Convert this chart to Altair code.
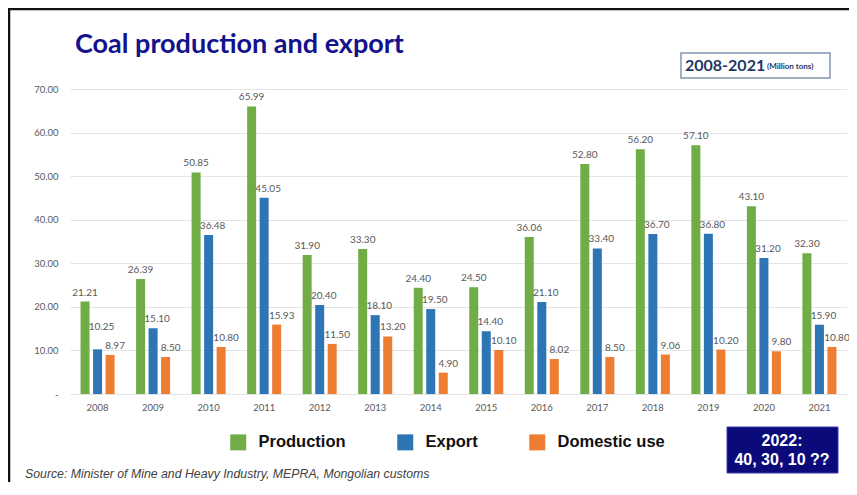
import altair as alt
import pandas as pd

years = [str(y) for y in range(2008, 2022)]
production = [21.21, 26.39, 50.85, 65.99, 31.90, 33.30, 24.40, 24.50, 36.06, 52.80, 56.20, 57.10, 43.10, 32.30]
export = [10.25, 15.10, 36.48, 45.05, 20.40, 18.10, 19.50, 14.40, 21.10, 33.40, 36.70, 36.80, 31.20, 15.90]
domestic = [8.97, 8.50, 10.80, 15.93, 11.50, 13.20, 4.90, 10.10, 8.02, 8.50, 9.06, 10.20, 9.80, 10.80]
series_names = ["Production", "Export", "Domestic use"]
series_colors = ["#70ad47", "#2e75b6", "#ed7d31"]
y_ticks = [0, 10, 20, 30, 40, 50, 60, 70]

title_text = "Coal production and export"
period_text = "2008-2021"
unit_text = "(Million tons)"
note_lines = ["2022:", "40, 30, 10 ??"]
source_text = "Source:  Minister of Mine and Heavy Industry, MEPRA, Mongolian customs"

rows = []
for name, vals in zip(series_names, [production, export, domestic]):
    for i, (yr, v) in enumerate(zip(years, vals)):
        lift = 3.0 if (name == "Export" and v - domestic[i] < 3) else 0.0
        rows.append({"year": yr, "series": name, "value": v, "label_y": v + lift})
df = pd.DataFrame(rows)

W, H = 777, 305
one = pd.DataFrame({"k": [0]})

x = alt.X("year:N", title=None, sort=years,
          scale=alt.Scale(paddingInner=0.387, paddingOuter=0.19),
          axis=alt.Axis(labelAngle=0, labelFont="Lato", labelFontSize=9.5, labelColor="#595959",
                        labelPadding=8, domain=False, ticks=False, grid=False))
xo = alt.XOffset("series:N", sort=series_names,
                 scale=alt.Scale(domain=series_names, paddingInner=0.28, paddingOuter=0))
yscale = alt.Scale(domain=[0, 70], nice=False)
yaxis = alt.Axis(values=y_ticks,
                 labelExpr="datum.value == 0 ? '-' : format(datum.value, '.2f')",
                 labelFont="Lato", labelFontSize=9.5, labelColor="#595959", labelPadding=12,
                 domain=False, ticks=False, grid=True, gridColor="#e4e4e4", gridWidth=1)
y = alt.Y("value:Q", title=None, scale=yscale, axis=yaxis)
ylab = alt.Y("label_y:Q", title=None, scale=yscale, axis=yaxis)
color = alt.Color("series:N", sort=series_names,
                  scale=alt.Scale(domain=series_names, range=series_colors),
                  legend=alt.Legend(orient="none", legendX=160, legendY=345, direction="horizontal",
                                    title=None, symbolType="square", symbolSize=256,
                                    symbolStrokeWidth=0, labelFont="Liberation Sans", labelFontSize=16.5,
                                    labelFontWeight="bold", labelColor="#111111", columnPadding=51,
                                    labelOffset=12, padding=0))

bars = alt.Chart(df).mark_bar().encode(x=x, xOffset=xo, y=y, color=color)

def labels(name, dx):
    return alt.Chart(df).transform_filter(alt.datum.series == name).mark_text(
        font="Lato", fontSize=10, color="#595959", baseline="bottom", dy=-4, dx=dx
    ).encode(x=x, xOffset=xo, y=ylab, text=alt.Text("value:Q", format=".2f"))

border = alt.Chart(one).mark_rect(fillOpacity=0, stroke="#111111", strokeWidth=2.5).encode(
    x=alt.value(-61), x2=alt.value(W + 20), y=alt.value(-80), y2=alt.value(420))

title = alt.Chart(one).transform_calculate(t=f"'{title_text}'").mark_text(
    font="Lato", fontSize=27, fontWeight="bold", color="#12128c", align="left", baseline="middle"
).encode(x=alt.value(5), y=alt.value(-44), text="t:N")

period_box = alt.Chart(one).mark_rect(fill="white", stroke="#8497b0", strokeWidth=1.5).encode(
    x=alt.value(611), x2=alt.value(760), y=alt.value(-36), y2=alt.value(-11))
period = alt.Chart(one).transform_calculate(t=f"'{period_text}'").mark_text(
    font="Lato", fontSize=16, fontWeight="bold", color="#1f3864", align="left", baseline="middle"
).encode(x=alt.value(615), y=alt.value(-23), text="t:N")
unit = alt.Chart(one).transform_calculate(t=f"'{unit_text}'").mark_text(
    font="Lato", fontSize=8, fontWeight="bold", color="#1f3864", align="left", baseline="middle"
).encode(x=alt.value(697), y=alt.value(-22), text="t:N")

note_box = alt.Chart(one).mark_rect(fill="#0a0a7a", stroke="#3a3ab0", strokeWidth=1).encode(
    x=alt.value(657), x2=alt.value(768), y=alt.value(338), y2=alt.value(384))
note1 = alt.Chart(one).transform_calculate(t=f"'{note_lines[0]}'").mark_text(
    font="Liberation Sans", fontSize=16, fontWeight="bold", color="white", align="center", baseline="middle"
).encode(x=alt.value(712), y=alt.value(352), text="t:N")
note2 = alt.Chart(one).transform_calculate(t=f"'{note_lines[1]}'").mark_text(
    font="Liberation Sans", fontSize=16, fontWeight="bold", color="white", align="center", baseline="middle"
).encode(x=alt.value(712), y=alt.value(371), text="t:N")

source = alt.Chart(one).transform_calculate(t=f"'{source_text}'").mark_text(
    font="Liberation Sans", fontSize=12.3, fontStyle="italic", color="#404040", align="left", baseline="middle"
).encode(x=alt.value(-45), y=alt.value(385), text="t:N")

chart = alt.layer(
    border, title, period_box, period, unit, note_box, note1, note2, source,
    bars, labels("Production", 0), labels("Export", 4), labels("Domestic use", 5)
).properties(
    width=W, height=H,
    autosize=alt.AutoSizeParams(type="none"),
    padding={"left": 62, "top": 81, "right": 2, "bottom": 88},
    background="white",
).configure_view(stroke=None)

chart.save("out.html", embed_options={"renderer": "svg", "actions": False})
